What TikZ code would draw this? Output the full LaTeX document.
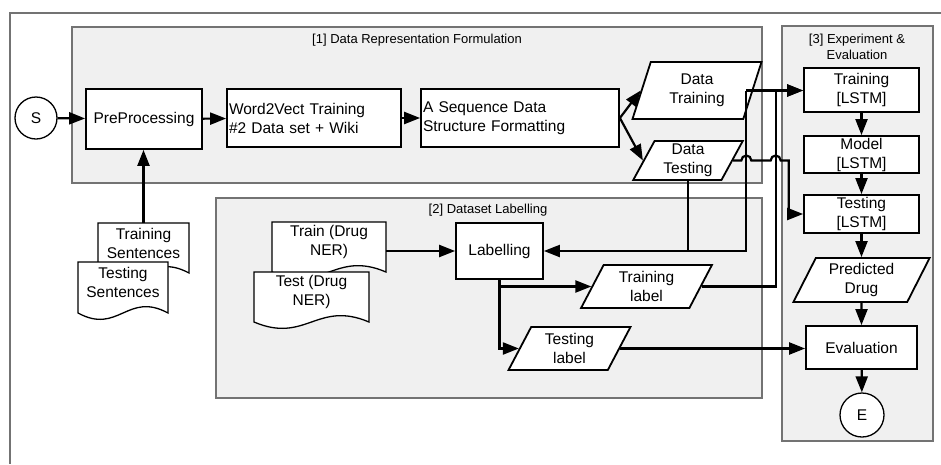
\documentclass[tikz,border=0pt]{standalone}
\usepackage{fontspec}
\setmainfont{Liberation Sans}
\usepackage{tikz}
\usetikzlibrary{shapes.geometric, arrows.meta, positioning}

\tikzset{
  region/.style={draw=black!55, fill=black!6, line width=1.3pt},
  title/.style={font=\fontsize{13}{16}\selectfont, align=center},
  proc/.style={draw, line width=1.8pt, fill=white, align=center, inner sep=2pt},
  data/.style={trapezium, trapezium left angle=65, trapezium right angle=115,
    trapezium stretches=true, draw, line width=1.8pt, fill=white, align=center, inner sep=1pt},
  term/.style={circle, draw, line width=1.3pt, fill=white, minimum size=42pt, inner sep=0pt},
  doc/.style={anchor=north, minimum height=40pt, align=center, inner sep=0pt},
  docline/.style={draw, line width=1.3pt, fill=white},
  conn/.style={line width=2.2pt}
}

% document outline: left, top, width, height of the straight sides
\newcommand{\docshape}[4]{%
  \draw[docline] (#1,#2) -- ++(#3,0) -- ++(0,#4)
    .. controls +({-0.45*#3},-22) and +({0.45*#3},22) .. ++({-#3},0) -- cycle;}

\begin{document}
\begin{tikzpicture}[x=1pt, y=-1pt, >={Triangle[length=16pt, width=12pt]},
    every node/.style={font=\fontsize{15.5}{19}\selectfont}]
  \useasboundingbox (0,0) rectangle (941,464);
  % frame and the three parts
  \draw[black!55, line width=1.5pt] (941,13) -- (10,13) -- (10,464);
  \draw[region] (72,27) rectangle (762,183);
  \draw[region] (216,198) rectangle (762,398);
  \draw[region] (782,26) rectangle (933,441);
  \node[title] (t1) at (417,40) {[1] Data Representation Formulation};
  \node[title] (t2) at (488,210) {[2] Dataset Labelling};
  \node[title] (t3) at (857,47) {[3] Experiment \&\\Evaluation};

  % [1]
  \node[term] (S) at (36,118) {S};
  \node[proc, minimum width=116pt, minimum height=60pt] (pre) at (144,119) {PreProcessing};
  \node[proc, text width=170pt, align=left, minimum height=58pt] (w2v) at (314,118) {Word2Vect Training\\\#2 Data set + Wiki};
  \node[proc, text width=194pt, align=left, minimum height=58pt] (seq) at (520,118) {A Sequence Data\\Structure Formatting};
  \node[data, trapezium left angle=72, trapezium right angle=108, minimum width=130pt, minimum height=57pt] (dtrain) at (697,90.5) {Data\\Training};
  \node[data, minimum width=110pt, minimum height=39pt] (dtest) at (688,160.5) {Data\\Testing};

  % input documents
  \docshape{98}{223}{91}{50}
  \node[doc, minimum width=91pt] (trs) at (143.5,223) {Training\\Sentences};
  \docshape{78}{262}{90}{51}
  \node[doc, minimum width=90pt] (tss) at (123,262) {Testing\\Sentences};

  % [2]
  \docshape{272}{222}{114}{50}
  \node[doc, minimum width=114pt] (trn) at (329,222) {Train (Drug\\NER)};
  \docshape{254}{272}{115}{50}
  \node[doc, minimum width=115pt] (tsn) at (311.5,272) {Test (Drug\\NER)};
  \node[proc, minimum width=87pt, minimum height=56pt] (lab) at (499.5,251) {Labelling};
  \node[data, minimum width=131pt, minimum height=43pt] (tlab) at (646.5,286.5) {Training\\label};
  \node[data, minimum width=123pt, minimum height=43pt] (tslab) at (569.5,348.5) {Testing\\label};

  % [3]
  \node[proc, minimum width=115pt, minimum height=44pt] (trl) at (861.5,90) {Training\\{[LSTM]}};
  \node[proc, minimum width=115pt, minimum height=37pt, inner sep=0pt] (mdl) at (861.5,154.5) {Model\\{[LSTM]}};
  \node[proc, minimum width=115pt, minimum height=38pt, inner sep=0pt] (tel) at (861.5,214) {Testing\\{[LSTM]}};
  \node[data, minimum width=137pt, minimum height=44pt] (pred) at (861.5,280) {Predicted\\Drug};
  \node[proc, minimum width=111pt, minimum height=43pt] (eval) at (861.5,347.5) {Evaluation};
  \node[term, minimum size=44pt] (E) at (862,415) {E};

  % connectors
  \draw[conn, ->] (S) -- (pre);
  \draw[conn, ->] (pre) -- (w2v);
  \draw[conn, ->] (w2v) -- (seq);
  \draw[conn, ->] (seq.east) -- (dtrain.west);
  \draw[conn, ->] (seq.east) -- (dtest.west);
  \draw[conn, ->] (trs.north) -- (trs.north |- pre.south);
  \draw[conn, ->] (trn.east |- lab) -- (lab);
  \draw[conn, ->] (lab.south) |- (tlab.west);
  \draw[conn, ->] (lab.south) |- (tslab.west);
  \draw[conn, ->] (tslab.east) -- (tslab.east -| eval.west);

  \coordinate (fork) at ([xshift=-7pt]dtrain.east);
  \coordinate (back) at ([xshift=74pt]tlab.east);
  \coordinate (h1) at (fork |- dtest.east);
  \coordinate (h2) at (back |- dtest.east);
  \draw[conn, ->] (fork) -- (trl.west |- fork);
  \draw[conn] (fork) |- (dtest.south |- lab.east);
  \draw[conn, ->] (dtest.south) |- (lab.east);
  \draw[conn, ->] (tlab.east) -- (back) |- (trl.west |- fork);
  \draw[conn, ->] (dtest.east) -- ([xshift=-5pt]h1) arc[start angle=180, end angle=360, radius=5]
    -- ([xshift=-5pt]h2) arc[start angle=180, end angle=360, radius=5]
    -- ([xshift=13pt]h2) |- (tel.west);

  \draw[conn, ->] (trl) -- (mdl);
  \draw[conn, ->] (mdl) -- (tel);
  \draw[conn, ->] (tel) -- (pred);
  \draw[conn, ->] (pred) -- (eval);
  \draw[conn, ->] (eval) -- (E);
\end{tikzpicture}
\end{document}
